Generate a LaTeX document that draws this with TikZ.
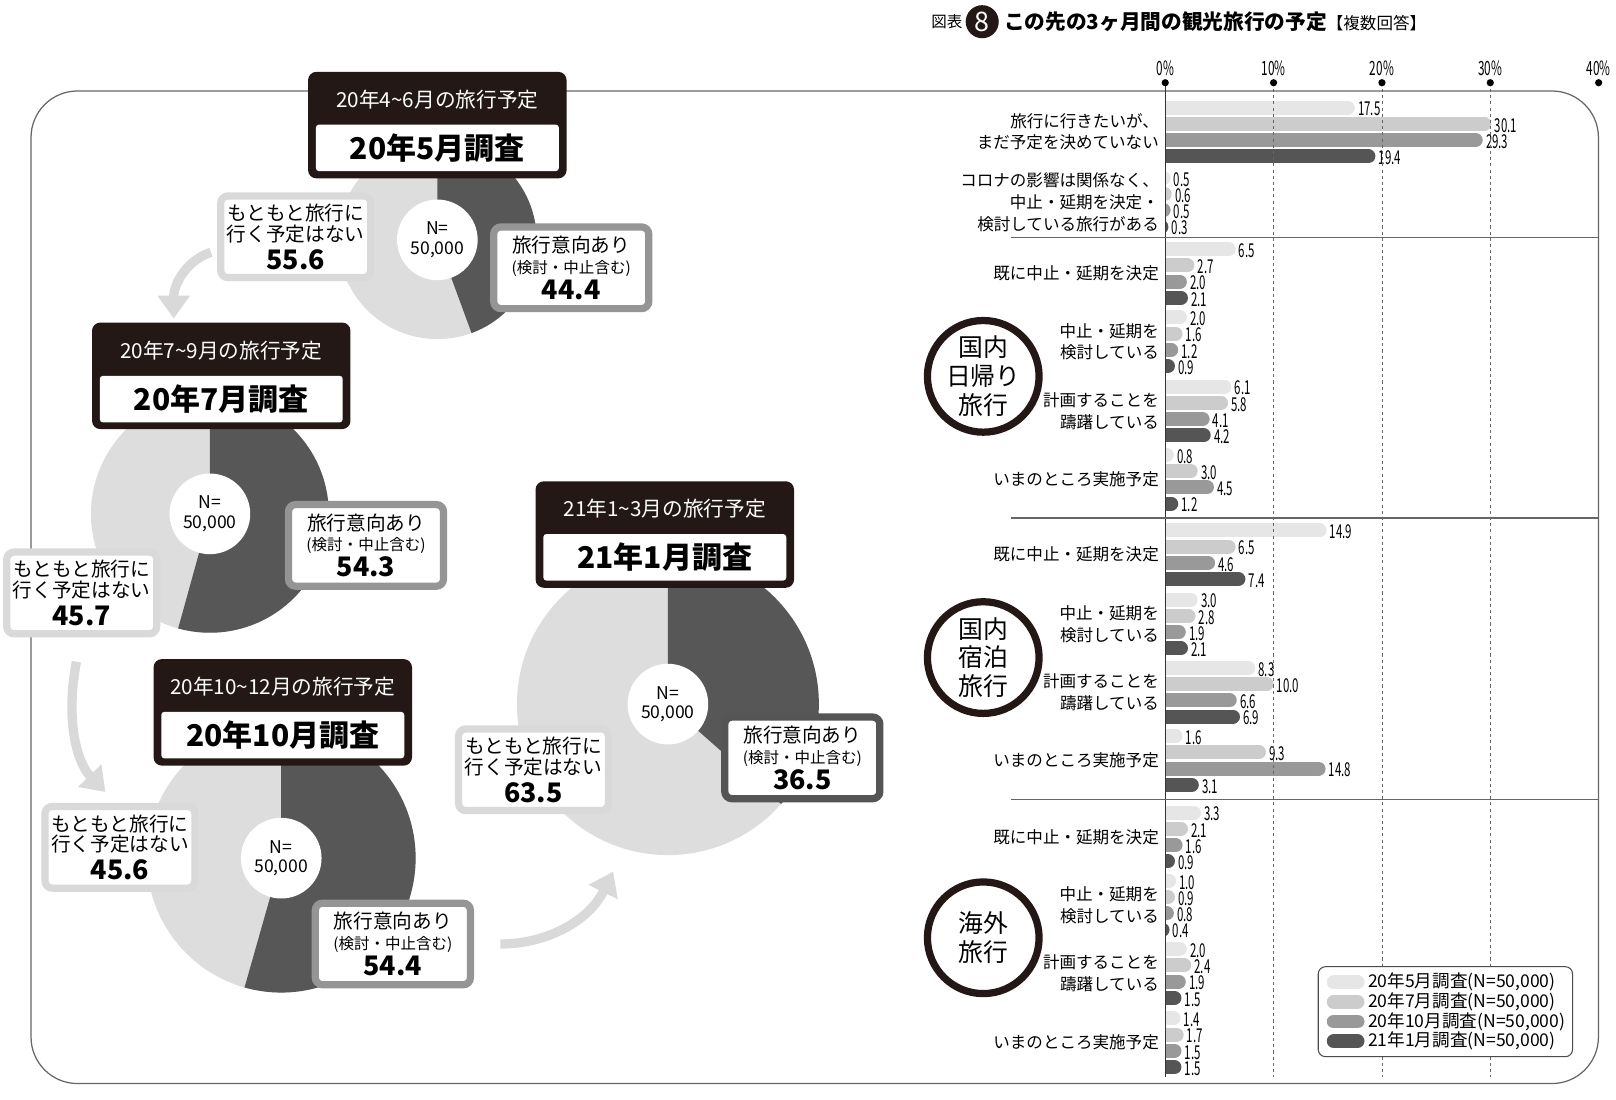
\documentclass[tikz,border=0pt]{standalone}
\usepackage{fontspec}
\setmainfont{Noto Sans CJK JP}
\usetikzlibrary{arrows.meta}

\definecolor{hdBlack}{HTML}{231815}
\definecolor{pieL}{HTML}{DDDDDD}
\definecolor{pieD}{HTML}{575757}
\definecolor{boxL}{HTML}{D9D9D9}
\definecolor{boxM}{HTML}{959595}
\definecolor{serA}{HTML}{E6E6E6}
\definecolor{serB}{HTML}{CCCCCC}
\definecolor{serC}{HTML}{999999}
\definecolor{serD}{HTML}{555555}
\definecolor{lineG}{HTML}{666666}

\tikzstyle{hd_box} = [rectangle, rounded corners=8pt, fill=hdBlack, minimum width=250pt, minimum height=103pt, inner sep=0pt]
\tikzstyle{hd_top} = [text=white, inner sep=0pt, font=\fontsize{20}{20}\selectfont]
\tikzstyle{hd_main} = [rectangle, rounded corners=3pt, fill=white, minimum width=235pt, minimum height=45pt, inner sep=0pt, font=\bfseries\fontsize{29}{29}\selectfont]
\tikzstyle{no_box} = [rectangle, rounded corners=7pt, draw=boxL, line width=7pt, fill=white, minimum width=145pt, minimum height=79pt, inner sep=0pt, align=center, font=\fontsize{19}{20}\selectfont]
\tikzstyle{yes_box} = [no_box, minimum width=150pt, draw=boxM]
\tikzstyle{n_circ} = [circle, fill=white, minimum size=78pt, inner sep=0pt, align=center, font=\fontsize{17}{19}\selectfont]
\tikzstyle{grp_c} = [circle, draw=hdBlack, line width=7pt, fill=white, minimum size=108pt, inner sep=0pt, align=center, font=\fontsize{24}{28}\selectfont]
\tikzstyle{cat_l} = [anchor=east, align=right, inner sep=0pt, font=\fontsize{16}{21}\selectfont]

\newcommand{\cnum}[1]{\scalebox{0.6}[1]{#1}}
\newcommand{\bignum}[1]{{\bfseries\fontsize{26}{27}\selectfont #1}}
\newcommand{\bardata}{104/17.5/30.1/29.3/19.4, 172/0.5/0.6/0.5/0.3,
  241/6.5/2.7/2.0/2.1, 307/2.0/1.6/1.2/0.9, 374/6.1/5.8/4.1/4.2, 440/0.8/3.0/4.5/1.2,
  513/14.9/6.5/4.6/7.4, 580/3.0/2.8/1.9/2.1, 646/8.3/10.0/6.6/6.9, 712/1.6/9.3/14.8/3.1,
  786/3.3/2.1/1.6/0.9, 852/1.0/0.9/0.8/0.4, 918/2.0/2.4/1.9/1.5, 985/1.4/1.7/1.5/1.5}

\begin{document}
\begin{tikzpicture}[x=1pt, y=-1pt,
  bar/.style={line width=13.5pt, line cap=round},
  vlab/.style={anchor=west, inner sep=0pt, text height=13pt, text depth=0pt, font=\fontsize{18.5}{18.5}\selectfont},
  flow/.style={draw=boxL, line width=9pt, -{Triangle[width=30pt, length=22pt]}},
  frame_l/.style={draw=lineG, line width=1.2pt, rounded corners=45pt}]
\useasboundingbox (0,0) rectangle (1563,1063.5);
\fill[white] (0,0) rectangle (1563,1063.5);

% frame
\draw[frame_l] (30,88) rectangle (1546,1048);

% pies
\fill[pieL] (423,232) circle (96pt);
\fill[pieD] (423,232) -- ++(90:96pt) arc[start angle=90, delta angle=-159.84, radius=96pt] -- cycle;
\fill[pieL] (203,497) circle (115pt);
\fill[pieD] (203,497) -- ++(90:115pt) arc[start angle=90, delta angle=-195.48, radius=115pt] -- cycle;
\fill[pieL] (272,830) circle (130pt);
\fill[pieD] (272,830) -- ++(90:130pt) arc[start angle=90, delta angle=-195.84, radius=130pt] -- cycle;
\fill[pieL] (646,681) circle (146pt);
\fill[pieD] (646,681) -- ++(90:146pt) arc[start angle=90, delta angle=-131.4, radius=146pt] -- cycle;

\node[n_circ] (n1) at (423,232) {N=\\50,000};
\node[n_circ] (n2) at (203,497) {N=\\50,000};
\node[n_circ] (n3) at (272,830) {N=\\50,000};
\node[n_circ] (n4) at (646,681) {N=\\50,000};

% arrows between surveys
\coordinate (a1s) at (204,244);
\coordinate (a1e) at (168,308);
\coordinate (a2s) at (74,640);
\coordinate (a2e) at (102,766);
\coordinate (a3s) at (484,913);
\coordinate (a3e) at (593,843);
\draw[flow] (a1s) .. controls (180,252) and (168,275) .. (a1e);
\draw[flow] (a2s) .. controls (64,690) and (72,735) .. (a2e);
\draw[flow] (a3s) .. controls (530,913) and (570,890) .. (a3e);

% answer boxes
\node[no_box] (l1) at (286,229) {もともと旅行に\\行く予定はない\\[5pt]\bignum{55.6}};
\node[yes_box] (r1) at (552.5,259) {旅行意向あり\\{\fontsize{15}{16}\selectfont (検討・中止含む)}\\[2pt]\bignum{44.4}};
\node[no_box] (l2) at (79,573.5) {もともと旅行に\\行く予定はない\\[5pt]\bignum{45.7}};
\node[yes_box] (r2) at (354,527.5) {旅行意向あり\\{\fontsize{15}{16}\selectfont (検討・中止含む)}\\[2pt]\bignum{54.3}};
\node[no_box] (l3) at (116,819.5) {もともと旅行に\\行く予定はない\\[5pt]\bignum{45.6}};
\node[yes_box] (r3) at (380,913) {旅行意向あり\\{\fontsize{15}{16}\selectfont (検討・中止含む)}\\[2pt]\bignum{54.4}};
\node[no_box] (l4) at (516,744.5) {もともと旅行に\\行く予定はない\\[5pt]\bignum{63.5}};
\node[yes_box, draw=serD] (r4) at (776,733) {旅行意向あり\\{\fontsize{15}{16}\selectfont (検討・中止含む)}\\[2pt]\bignum{36.5}};

% survey headers
\node[hd_box] (h1) at (423,121) {};
\node[hd_top] (h1t) at (423,96) {20年4\textasciitilde 6月の旅行予定};
\node[hd_main] (h1m) at (423,143) {20年5月調査};
\node[hd_box] (h2) at (214,363.5) {};
\node[hd_top] (h2t) at (214,339) {20年7\textasciitilde 9月の旅行予定};
\node[hd_main] (h2m) at (214,386) {20年7月調査};
\node[hd_box] (h3) at (273.5,689) {};
\node[hd_top] (h3t) at (273.5,664) {20年10\textasciitilde 12月の旅行予定};
\node[hd_main] (h3m) at (273.5,711) {20年10月調査};
\node[hd_box] (h4) at (643,517) {};
\node[hd_top] (h4t) at (643,492) {21年1\textasciitilde 3月の旅行予定};
\node[hd_main] (h4m) at (643,539) {21年1月調査};

% title
\node[anchor=east, inner sep=0pt, font=\fontsize{15}{15}\selectfont] (ttl0) at (931,21) {図表};
\node[circle, fill=hdBlack, minimum size=32pt, inner sep=0pt, text=white, font=\fontsize{26}{26}\selectfont] (ttl8) at (950,21) {8};
\node[anchor=west, inner sep=0pt] (ttl) at (971,21) {{\bfseries\fontsize{20}{20}\selectfont この先の3ヶ月間の観光旅行の予定}{\fontsize{16}{16}\selectfont【複数回答】}};

% bar chart
\begin{scope}
\clip (1127,84) rectangle (1600,1045);
\foreach \yy/\va/\vb/\vc/\vd in \bardata {
  \foreach \v/\col [count=\k] in {\va/serA,\vb/serB,\vc/serC,\vd/serD}
    \draw[bar, color=\col] (1110,{\yy+15.7*(\k-1)}) -- ({1127+10.48*\v-6.75},{\yy+15.7*(\k-1)});
}
\end{scope}
\foreach \yy/\va/\vb/\vc/\vd [count=\r] in \bardata {
  \foreach \v [count=\k] in {\va,\vb,\vc,\vd}
    \node[vlab] (v\r-\k) at ({1127+10.48*\v+3},{\yy+15.7*(\k-1)+1.5}) {\cnum{\v}};
}
\foreach \p [count=\i] in {10,20,30}
  \draw[lineG, dashed, line width=0.8pt] ({1127+10.48*\p},80) -- ({1127+10.48*\p},1042);
\draw[black!80, line width=1pt] (1127,80) -- (1127,1042);
\foreach \p [count=\i] in {0,10,20,30,40} {
  \fill ({1127+10.48*\p},80) circle (3.5pt);
  \node[inner sep=0pt, font=\fontsize{19}{19}\selectfont] (tk\i) at ({1127+10.48*\p},66) {\cnum{\p\%}};
}
\foreach \yy in {230,501,773}
  \draw[lineG, line width=1.2pt] (978,\yy) -- (1546,\yy);

% row labels
\node[cat_l] (c1) at (1121,127.5) {旅行に行きたいが、\\まだ予定を決めていない};
\node[cat_l] (c2) at (1121,195.5) {コロナの影響は関係なく、\\中止・延期を決定・\\検討している旅行がある};
\node[cat_l] (c3) at (1121,264.5) {既に中止・延期を決定};
\node[cat_l] (c4) at (1121,330.5) {中止・延期を\\検討している};
\node[cat_l] (c5) at (1121,397.5) {計画することを\\躊躇している};
\node[cat_l] (c6) at (1121,463.5) {いまのところ実施予定};
\node[cat_l] (c7) at (1121,536.5) {既に中止・延期を決定};
\node[cat_l] (c8) at (1121,603.5) {中止・延期を\\検討している};
\node[cat_l] (c9) at (1121,669.5) {計画することを\\躊躇している};
\node[cat_l] (c10) at (1121,735.5) {いまのところ実施予定};
\node[cat_l] (c11) at (1121,809.5) {既に中止・延期を決定};
\node[cat_l] (c12) at (1121,875.5) {中止・延期を\\検討している};
\node[cat_l] (c13) at (1121,941.5) {計画することを\\躊躇している};
\node[cat_l] (c14) at (1121,1008.5) {いまのところ実施予定};

% group circles
\node[grp_c] (g1) at (951,364) {国内\\日帰り\\旅行};
\node[grp_c] (g2) at (951,636) {国内\\宿泊\\旅行};
\node[grp_c] (g3) at (951,907) {海外\\旅行};

% legend
\node[draw=black!70, line width=1pt, rounded corners=7pt, fill=white, minimum width=246pt, minimum height=87pt] (leg) at (1398,978.5) {};
\foreach \col/\t [count=\i] in {serA/20年5月調査, serB/20年7月調査, serC/20年10月調査, serD/21年1月調査} {
  \draw[bar, color=\col] (1290,{931+19*\i}) -- (1313,{931+19*\i});
  \node[anchor=west, inner sep=0pt, font=\fontsize{17}{17}\selectfont] (lg\i) at (1323,{931+19*\i}) {\t(N=50,000)};
}
\end{tikzpicture}
\end{document}
